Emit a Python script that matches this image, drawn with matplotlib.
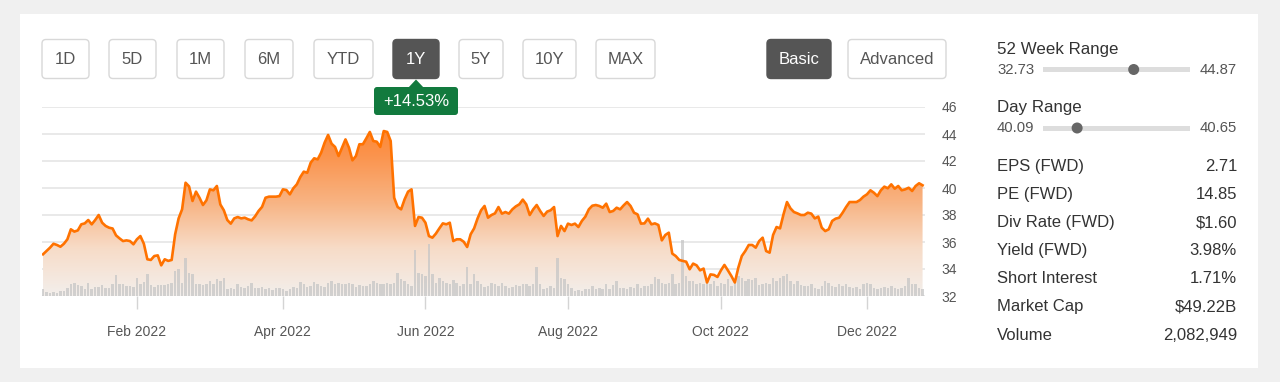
"""Stock price card: 1Y price line with volume bars and key stats panel."""

import matplotlib

matplotlib.use("Agg")
import matplotlib.pyplot as plt
import numpy as np
import pandas as pd
from matplotlib.colors import LinearSegmentedColormap
from matplotlib.patches import Circle, FancyBboxPatch, Polygon, Rectangle

plt.rcParams["font.family"] = ["Liberation Sans", "DejaVu Sans"]

# ---- data -----------------------------------------------------------------
HOLIDAYS = [
    "2021-12-24", "2022-01-17", "2022-02-21", "2022-04-15", "2022-05-30",
    "2022-06-20", "2022-07-04", "2022-09-05", "2022-11-24",
]
dates = pd.bdate_range("2021-12-22", "2022-12-23", freq="C", holidays=HOLIDAYS)

price = [
    35.09, 35.33, 35.58, 35.87, 35.78, 35.65, 35.87, 36.20, 36.94, 36.77, 36.86,
    37.31, 37.38, 37.63, 37.31, 37.63, 38.00, 37.43, 37.19, 37.06, 37.00,
    36.49, 36.27, 36.07, 36.12, 36.07, 35.83, 36.20, 36.44, 35.87, 34.72,
    34.67, 34.96, 35.01, 34.27, 34.72, 34.60, 34.67, 36.57, 37.75, 38.42,
    40.39, 40.12, 39.04, 39.73, 39.28, 38.74, 39.09, 39.90, 39.83, 40.15,
    38.78, 38.35, 37.63, 37.36, 37.75, 37.85, 37.75, 37.80, 37.68, 37.60,
    37.90, 38.30, 38.60, 39.28, 39.36, 39.36, 39.36, 39.40, 39.90, 39.85,
    39.53, 39.98, 40.27, 40.81, 41.21, 41.13, 41.88, 42.20, 42.12, 42.62,
    43.36, 43.93, 43.28, 43.04, 42.37, 42.99, 43.60, 42.99, 42.05, 42.37,
    43.24, 43.24, 43.68, 44.15, 43.48, 43.43, 43.04, 44.22, 44.15, 43.48,
    39.28, 38.59, 38.42, 39.16, 39.73, 39.90, 37.19, 37.85, 37.80, 37.43,
    36.44, 36.32, 36.62, 37.01, 37.38, 37.31, 37.43, 36.07, 36.20, 36.20,
    36.02, 35.63, 36.57, 37.01, 37.75, 38.35, 38.67, 37.80, 38.00, 38.12,
    38.59, 38.10, 38.22, 38.10, 38.42, 38.64, 38.79, 39.14, 38.79, 38.00,
    38.42, 38.74, 38.30, 37.93, 38.25, 38.35, 38.59, 36.44, 37.19, 36.81,
    37.36, 37.26, 37.36, 37.11, 37.56, 37.88, 38.42, 38.69, 38.74, 38.67,
    38.54, 38.84, 38.22, 38.30, 38.54, 38.42, 38.71, 38.96, 38.67, 38.17,
    38.05, 37.36, 37.38, 37.73, 37.31, 37.38, 37.26, 36.12, 36.52, 36.69,
    35.14, 34.96, 34.67, 34.60, 34.54, 33.98, 34.40, 34.27, 33.90, 34.03,
    33.00, 33.60, 33.56, 33.41, 33.90, 34.30, 33.90, 33.48, 33.00, 34.10,
    34.96, 35.33, 35.78, 35.78, 35.58, 36.07, 36.32, 35.33, 35.21, 36.52,
    37.11, 37.01, 38.05, 38.96, 38.49, 38.22, 38.12, 38.00, 38.00, 38.17,
    38.10, 37.75, 37.88, 37.06, 36.81, 36.94, 37.56, 37.73, 37.80, 38.17,
    38.59, 38.96, 38.96, 38.96, 39.11, 39.36, 39.53, 39.83, 39.65, 39.40,
    39.83, 40.10, 39.98, 40.27, 39.95, 40.15, 39.83, 39.90, 40.02, 39.78,
    40.15, 40.35, 40.20,
]

# daily volume, millions of shares
volume = [
    0.88, 0.53, 0.44, 0.57, 0.44, 0.66, 0.66, 1.10, 1.63, 1.76, 1.45,
    1.32, 0.97, 1.76, 0.88, 1.23, 1.19, 1.45, 1.01, 1.10, 1.63,
    2.78, 1.54, 1.63, 1.32, 1.32, 1.19, 2.34, 1.63, 1.85, 2.95,
    1.45, 1.19, 1.41, 1.45, 1.45, 1.54, 1.76, 3.30, 3.53, 1.76,
    4.98, 3.09, 2.95, 1.63, 1.63, 1.45, 1.63, 1.98, 1.63, 2.20,
    1.98, 2.34, 0.88, 1.10, 0.88, 1.63, 1.19, 1.10, 1.32, 1.76,
    1.01, 1.10, 1.19, 0.88, 1.01, 0.79, 1.10, 1.01, 0.88, 0.66,
    0.88, 1.19, 1.10, 1.85, 1.54, 1.19, 1.32, 1.85, 1.63, 1.32,
    1.19, 1.76, 1.98, 1.63, 1.76, 1.63, 1.54, 1.76, 1.63, 1.19,
    1.45, 1.32, 1.32, 1.54, 1.98, 1.76, 1.63, 1.54, 1.76, 1.63,
    1.76, 3.09, 2.20, 1.98, 1.63, 1.32, 6.04, 3.09, 2.87, 2.65,
    6.83, 2.95, 1.76, 2.34, 1.98, 1.76, 1.63, 2.07, 1.76, 1.32,
    1.63, 3.84, 1.54, 2.95, 1.98, 1.54, 1.19, 1.32, 1.76, 1.54,
    1.32, 1.76, 1.32, 1.10, 1.19, 1.45, 1.32, 1.54, 1.63, 1.32,
    1.54, 3.84, 1.54, 0.88, 1.10, 1.32, 1.10, 4.98, 2.43, 2.20,
    1.63, 1.10, 0.66, 0.75, 0.66, 0.88, 0.88, 1.32, 0.88, 1.10,
    0.88, 1.54, 0.88, 1.45, 1.98, 1.10, 1.10, 0.88, 1.19, 1.10,
    1.63, 1.10, 1.32, 1.32, 1.63, 2.51, 2.20, 1.76, 1.54, 1.76,
    2.87, 1.63, 1.76, 7.36, 2.65, 1.98, 1.98, 1.63, 1.76, 1.63,
    2.20, 1.63, 1.98, 1.32, 1.76, 1.63, 2.20, 1.32, 1.98, 2.65,
    2.43, 1.98, 2.20, 2.07, 2.43, 1.45, 1.54, 1.76, 1.63, 2.43,
    1.98, 2.43, 2.65, 2.87, 1.98, 1.63, 1.98, 1.45, 1.32, 1.32,
    1.63, 1.10, 0.88, 1.32, 1.98, 1.76, 1.32, 1.19, 1.54, 1.32,
    1.63, 1.19, 1.10, 1.19, 0.88, 1.54, 1.76, 1.63, 1.10, 0.88,
    1.10, 1.19, 1.01, 1.32, 1.10, 0.88, 1.10, 1.32, 2.43, 1.63,
    1.54, 1.10, 0.88,
]

tick_months = ["2022-02", "2022-04", "2022-06", "2022-08", "2022-10", "2022-12"]
y_ticks = [32, 34, 36, 38, 40, 42, 44, 46]

range_buttons = ["1D", "5D", "1M", "6M", "YTD", "1Y", "5Y", "10Y", "MAX"]
active_range = "1Y"
change_label = "+14.53%"

week52_low, week52_high = 32.73, 44.87
day_low, day_high = 40.09, 40.65
current_price = 40.22

stat_labels = ["EPS (FWD)", "PE (FWD)", "Div Rate (FWD)", "Yield (FWD)",
               "Short Interest", "Market Cap", "Volume"]
stat_values = ["2.71", "14.85", "$1.60", "3.98%", "1.71%", "$49.22B", "2,082,949"]

# ---- figure ---------------------------------------------------------------
W, H = 1280, 382
fig = plt.figure(figsize=(W / 100, H / 100), dpi=100, facecolor="#f0f0f0")


def px_axes(zorder):
    a = fig.add_axes([0, 0, 1, 1], zorder=zorder)
    a.set_xlim(0, W)
    a.set_ylim(H, 0)
    a.axis("off")
    a.patch.set_visible(False)
    return a


bg = px_axes(-5)
bg.add_patch(Rectangle((20, 14), 1238, 354, fc="white", ec="none"))

x = np.arange(len(dates))
rect = [42 / W, (H - 296) / H, 883 / W, 189 / H]
xlim = (-0.3, len(dates) - 0.3)
ylim = (y_ticks[0], y_ticks[-1])

# price axes: grid, ticks, gradient fill
ax = fig.add_axes(rect, zorder=1)
ax.patch.set_visible(False)
cmap = LinearSegmentedColormap.from_list(
    "fade", ["#f3efec", "#f7dcc8", "#f8b382", "#fb934c", "#ff7f20"]
)
grad = np.linspace(0, 1, 256).reshape(-1, 1)
im = ax.imshow(grad, extent=[*xlim, *ylim], origin="lower", aspect="auto",
               cmap=cmap, zorder=1, interpolation="bilinear")
area = ax.fill_between(x, price, ylim[0], color="none", lw=0)
im.set_clip_path(area.get_paths()[0], transform=ax.transData)

ax.set_xlim(*xlim)
ax.set_ylim(*ylim)
ax.set_yticks(y_ticks)
ax.yaxis.tick_right()
ax.grid(axis="y", color="#e3e3e3", lw=1.1)
ax.set_axisbelow(True)
for s in ax.spines.values():
    s.set_visible(False)

tick_idx = [dates.searchsorted(pd.Timestamp(m + "-01")) for m in tick_months]
ax.set_xticks(tick_idx)
ax.set_xticklabels([dates[i].strftime("%b %Y") for i in tick_idx])
ax.tick_params(axis="x", length=9.5, width=1, color="#d4d4d4", pad=11.5,
               labelsize=10, labelcolor="#555555")
ax.tick_params(axis="y", length=0, pad=12, labelsize=10, labelcolor="#555555")

# volume bars
ax_vol = fig.add_axes(rect, zorder=2, sharex=ax)
ax_vol.set_ylim(0, 25)
ax_vol.axis("off")
ax_vol.patch.set_visible(False)
ax_vol.bar(x, volume, width=0.72, color="#c6c6c6", alpha=0.75, lw=0)

# price line on top
ax_line = fig.add_axes(rect, zorder=3, sharex=ax, sharey=ax)
ax_line.axis("off")
ax_line.patch.set_visible(False)
ax_line.plot(x, price, color="#ff7200", lw=1.9, solid_joinstyle="round")

# ---- UI overlay -----------------------------------------------------------
ui = px_axes(10)

btn_left = [42, 109, 177, 245, 314, 393, 459, 523, 596]
btn_right = [89, 156, 224, 293, 373, 439, 503, 576, 655]


def button(x0, x1, label, active):
    ui.add_patch(FancyBboxPatch(
        (x0, 39.5), x1 - x0, 39, boxstyle="round,pad=0,rounding_size=4",
        fc="#555555" if active else "white",
        ec="#555555" if active else "#d8d8d8", lw=1))
    ui.text((x0 + x1) / 2, 59.5, label, ha="center", va="center", fontsize=12,
            color="white" if active else "#555555")


for lab, l, r in zip(range_buttons, btn_left, btn_right):
    button(l, r, lab, lab == active_range)
button(767, 831, "Basic", True)
button(848, 946, "Advanced", False)

# change badge under the active button
ui.add_patch(FancyBboxPatch((374, 87), 84, 28, boxstyle="round,pad=0,rounding_size=3",
                            fc="#127a3e", ec="none"))
ui.add_patch(Polygon([(408, 88), (416, 79.5), (424, 88)], closed=True,
                     fc="#127a3e", ec="none"))
ui.text(416, 101.5, change_label, ha="center", va="center", fontsize=12,
        color="white")


# right panel
def range_row(y_title, y_bar, title, lo, hi):
    ui.text(997, y_title, title, ha="left", va="center", fontsize=12.2, color="#333333")
    ui.text(997, y_bar, f"{lo:.2f}", ha="left", va="center", fontsize=10.7,
            color="#555555")
    ui.text(1237, y_bar, f"{hi:.2f}", ha="right", va="center", fontsize=10.7,
            color="#555555")
    x0, x1 = 1043, 1190
    ui.add_patch(Rectangle((x0, y_bar - 2.5), x1 - x0, 5, fc="#dddddd", ec="none"))
    frac = (current_price - lo) / (hi - lo)
    ui.add_patch(Circle((x0 + frac * (x1 - x0), y_bar), 5.5, fc="#666666", ec="none"))


range_row(49.5, 69.5, "52 Week Range", week52_low, week52_high)
range_row(107.5, 128, "Day Range", day_low, day_high)

for k, (lab, val) in enumerate(zip(stat_labels, stat_values)):
    y = 166.5 + k * 28.1
    ui.text(997, y, lab, ha="left", va="center", fontsize=12, color="#333333")
    ui.text(1237, y, val, ha="right", va="center", fontsize=12, color="#333333")

fig.savefig("out.png", dpi=100, facecolor=fig.get_facecolor())
